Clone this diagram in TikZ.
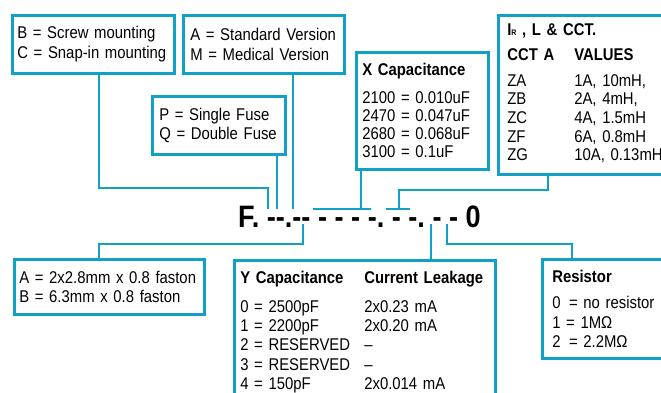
\documentclass[tikz,border=0pt]{standalone}
\usepackage{fontspec}
\setmainfont{Liberation Sans}[FakeStretch=0.875]
\usepackage{tikz}
\usetikzlibrary{calc}
\definecolor{fescyan}{RGB}{18,160,198}

\begin{document}
\begin{tikzpicture}[x=1pt,y=-1pt,
  box/.style={draw=fescyan, line width=2.6pt, anchor=north west, align=left,
    inner ysep=0pt, font=\fontsize{17}{19.5}\selectfont},
  link/.style={draw=fescyan, line width=2.4pt},
  code/.style={anchor=base west, inner sep=0pt,
    font=\fontsize{31}{31}\selectfont\bfseries\frenchspacing}]
  \useasboundingbox (0,0) rectangle (661,392);
  \clip (0,0) rectangle (661,392);

  % Part number
  \node[code] (partno) at (238,227) {F. -{}-.-{}- - - - -. - -. - - 0};

  % Top row boxes
  \node[box, minimum width=162pt, minimum height=58pt, inner xsep=5pt, text width=152pt] (bc) at (11,14)
    {B = Screw mounting\\C = Snap-in mounting};
  \node[box, minimum width=161pt, minimum height=58pt, inner xsep=7pt, text width=147pt] (am) at (182,14)
    {A = Standard Version\\M = Medical Version};
  \node[box, minimum width=133pt, minimum height=58pt, inner xsep=7pt, text width=119pt] (pq) at (151,95)
    {P = Single Fuse\\Q = Double Fuse};
  \node[box, minimum width=132pt, minimum height=117pt, inner xsep=6pt, text width=120pt,
    font=\fontsize{17}{18}\selectfont] (xc) at (355,51)
    {\textbf{X Capacitance}\\[10pt]2100 = 0.010uF\\2470 = 0.047uF\\2680 = 0.068uF\\3100 = 0.1uF};
  \node[box, minimum width=183pt, minimum height=159pt, inner xsep=9pt, text width=165pt,
    font=\fontsize{17}{18.6}\selectfont] (ir) at (497,14)
    {\textbf{I{\fontsize{8}{8}\selectfont R} , L \& CCT.}\\[7pt]
     \begin{tabular}[t]{@{}p{67pt}@{}l@{}}
       \textbf{CCT A} & \textbf{VALUES}\\[7pt]
       ZA & 1A, 10mH,\\
       ZB & 2A, 4mH,\\
       ZC & 4A, 1.5mH\\
       ZF & 6A, 0.8mH\\
       ZG & 10A, 0.13mH
     \end{tabular}};

  % Bottom row boxes
  \node[box, minimum width=190pt, minimum height=55pt, inner xsep=5pt, text width=180pt] (fa) at (13,258)
    {A = 2x2.8mm x 0.8 faston\\B = 6.3mm x 0.8 faston};
  \node[box, minimum width=261pt, minimum height=145pt, inner xsep=6pt, text width=249pt,
    font=\fontsize{17}{19.3}\selectfont] (yc) at (233,259)
    {\begin{tabular}[t]{@{}p{124pt}@{}l@{}}
       \textbf{Y Capacitance} & \textbf{Current Leakage}\\[9pt]
       0 = 2500pF & 2x0.23 mA\\
       1 = 2200pF & 2x0.20 mA\\
       2 = RESERVED & –\\
       3 = RESERVED & –\\
       4 = 150pF & 2x0.014 mA
     \end{tabular}};
  \node[box, minimum width=139pt, minimum height=99pt, inner xsep=10pt, text width=119pt] (rs) at (541,258)
    {\textbf{Resistor}\\[7pt]0\enspace= no resistor\\1 = 1MΩ\\2\enspace= 2.2MΩ};

  % Connector ends at the part number
  \coordinate (bcTurn) at (99,188);
  \coordinate (bcEnd) at (268,209);
  \coordinate (pqEnd) at (277,209);
  \coordinate (amEnd) at (293,209);
  \coordinate (xcEnd) at (361,209);
  \coordinate (xcL) at (313,209);
  \coordinate (xcR) at (371,209);
  \coordinate (irTurn) at (548,190);
  \coordinate (irEnd) at (399,209);
  \coordinate (irL) at (386,209);
  \coordinate (irR) at (410,209);
  \coordinate (faStart) at (303,224);
  \coordinate (faTurn) at (99,244);
  \coordinate (ycStart) at (431,224);
  \coordinate (rsStart) at (447,224);
  \coordinate (rsTurn) at (572,244);

  % Connectors
  \draw[link] (bc.south -| bcTurn) -- (bcTurn) -| (bcEnd);
  \draw[link] (pq.south -| pqEnd) -- (pqEnd);
  \draw[link] (am.south -| amEnd) -- (amEnd);
  \draw[link] (xc.south -| xcEnd) -- (xcEnd);
  \draw[link] (xcL) -- (xcR);
  \draw[link] (ir.south -| irTurn) -- (irTurn) -| (irEnd);
  \draw[link] (irL) -- (irR);
  \draw[link] (faStart) |- (faTurn) -- (fa.north -| faTurn);
  \draw[link] (ycStart) -- (yc.north -| ycStart);
  \draw[link] (rsStart) |- (rsTurn) -- (rs.north -| rsTurn);
\end{tikzpicture}
\end{document}
